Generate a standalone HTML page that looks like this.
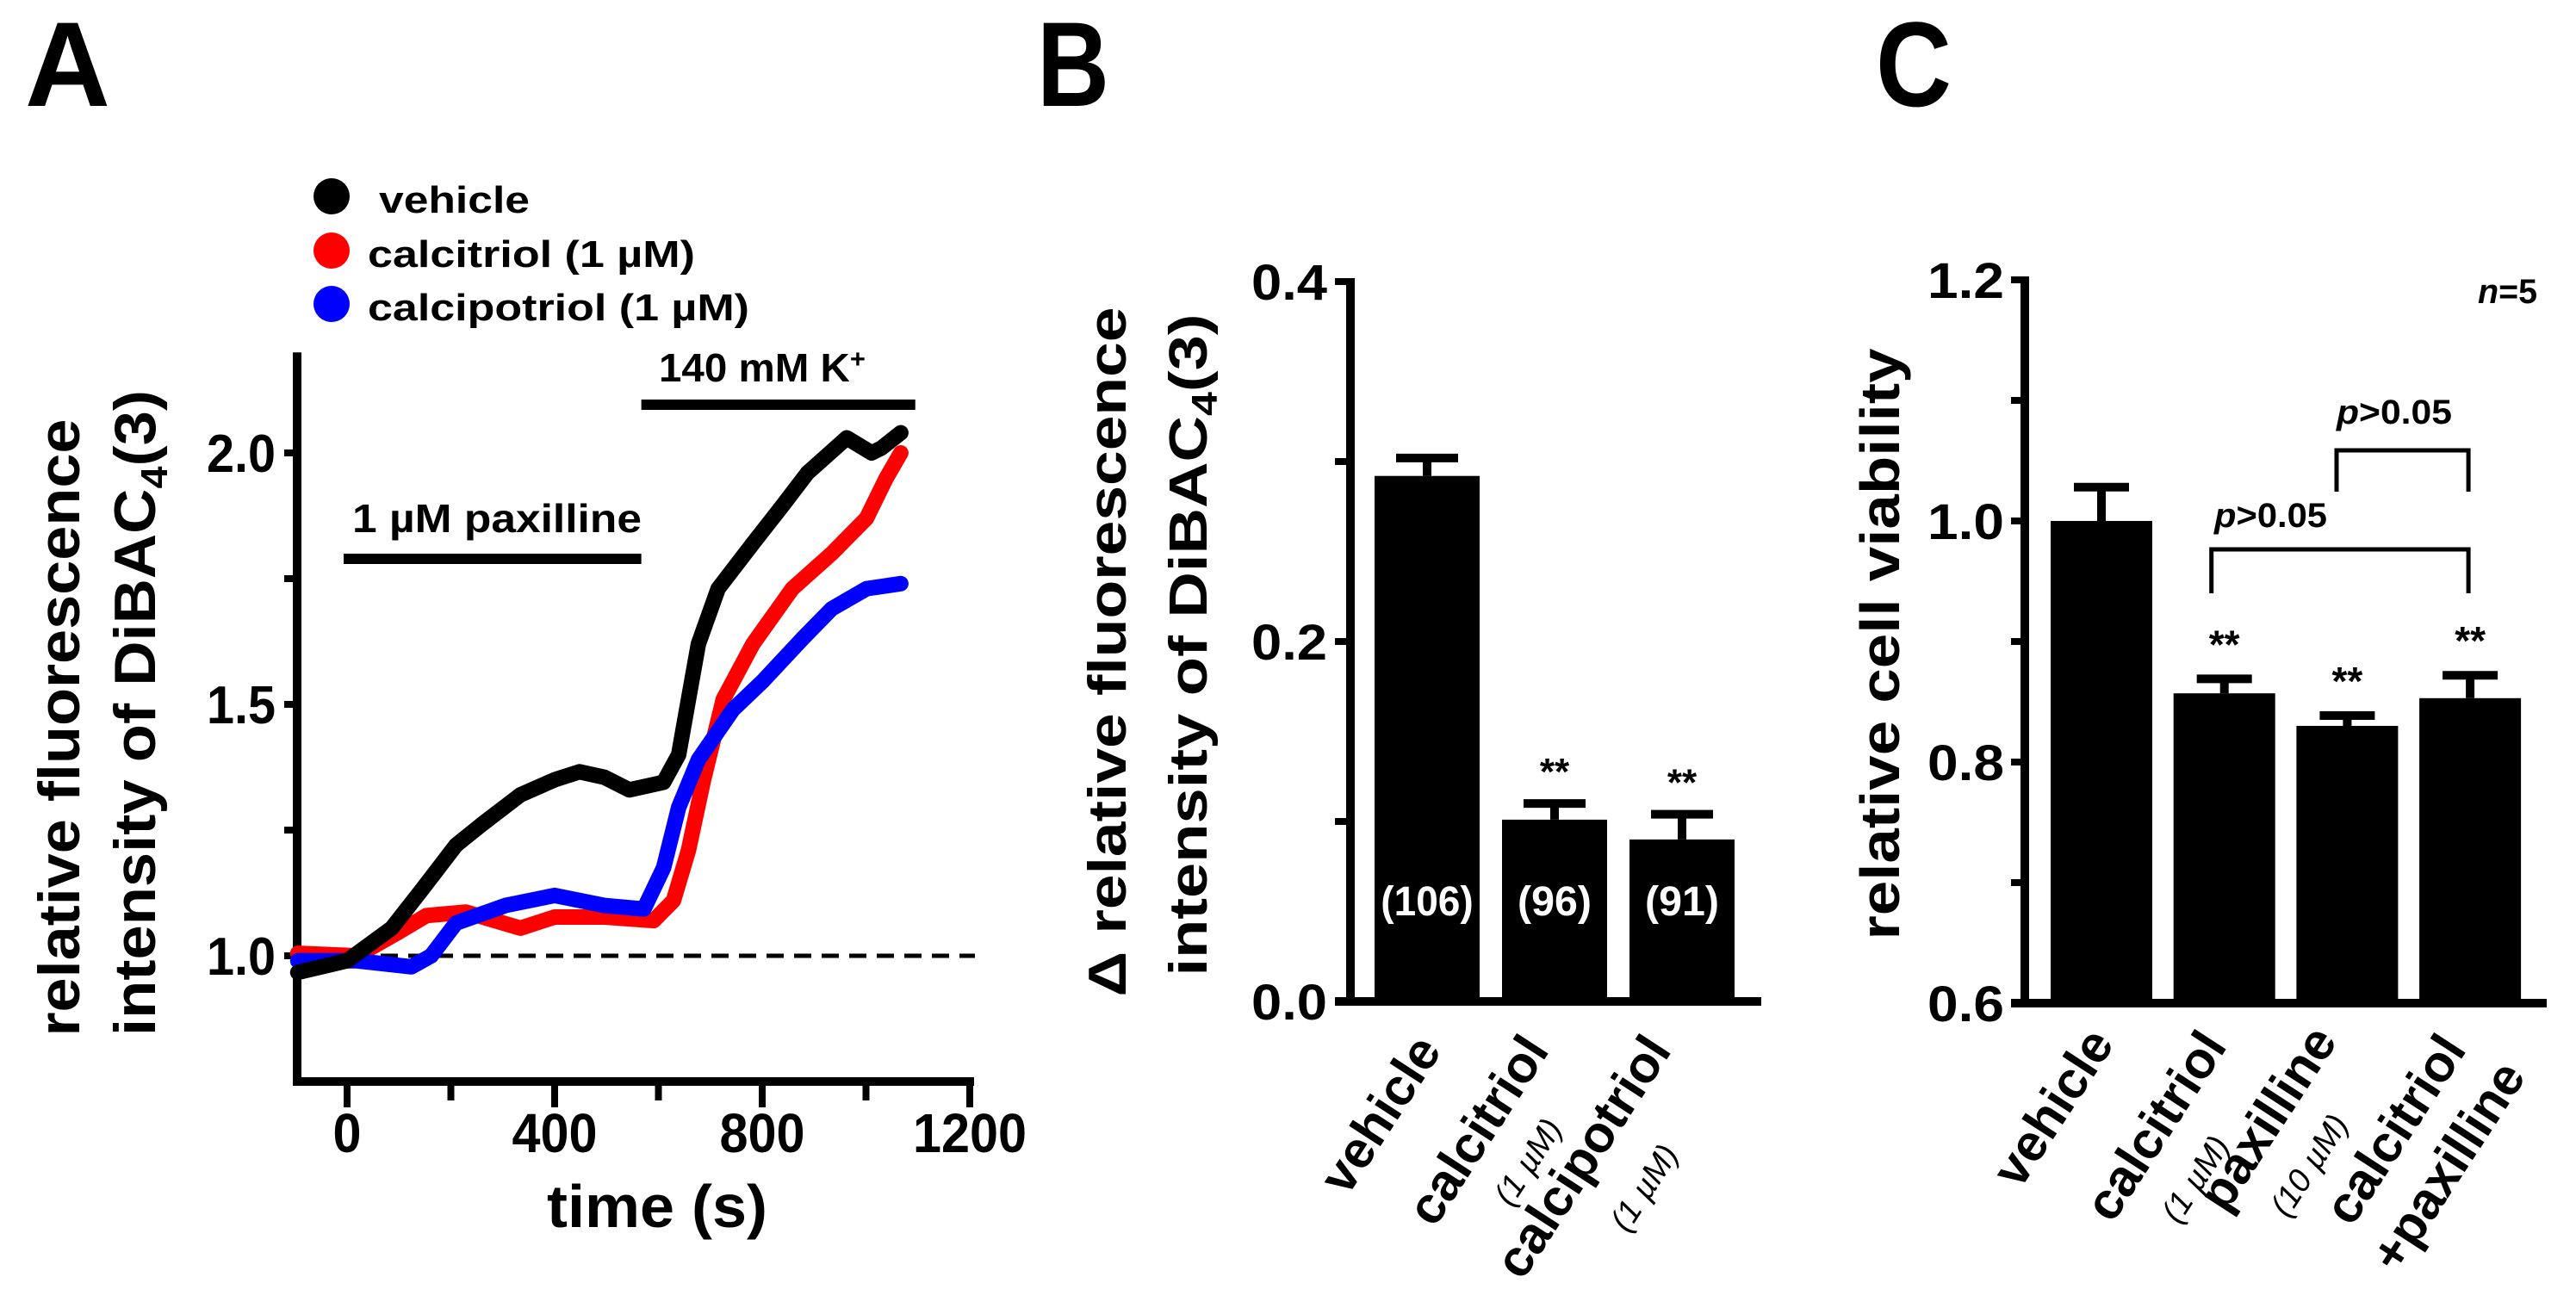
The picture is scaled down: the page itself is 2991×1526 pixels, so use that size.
<!DOCTYPE html>
<html><head><meta charset="utf-8"><style>
html,body{margin:0;padding:0;background:#fff;}
svg{display:block;font-family:"Liberation Sans",Arial,sans-serif;font-weight:bold;}
</style></head><body>
<svg id="fig" width="2991" height="1526" viewBox="0 0 2991 1526" xmlns="http://www.w3.org/2000/svg">
<g id="panelA"></g>
<g id="panelB"></g>
<g id="panelC"></g>
</svg>
<script>
// ---- Panel A data ----
const aVehicleT = [-95,0,86,143,210,258,334,400,448,496,544,610,639,658,677,715,782,839,887,963,1011,1030,1067];
const aVehicleV = [0.967,0.99,1.055,1.13,1.22,1.26,1.32,1.35,1.366,1.355,1.33,1.345,1.40,1.51,1.62,1.73,1.82,1.895,1.96,2.03,2.0,2.01,2.04];
const aCalcitriolT = [-95,19,96,153,229,334,400,496,591,629,658,687,725,782,858,934,1001,1039,1067];
const aCalcitriolV = [1.005,1.0,1.045,1.08,1.087,1.055,1.077,1.077,1.07,1.11,1.21,1.35,1.51,1.62,1.73,1.80,1.87,1.95,2.0];
const aCalcipotriolT = [-95,19,124,162,210,305,400,496,572,610,639,677,744,801,877,934,1001,1067];
const aCalcipotriolV = [0.99,0.99,0.978,1.0,1.065,1.10,1.12,1.10,1.093,1.175,1.295,1.39,1.49,1.546,1.63,1.69,1.73,1.74];
const aXTicks = [0,400,800,1200];
const aXTickLabels = ["0","400","800","1200"];
const aYTicks = [1.0,1.5,2.0];
const aYTickLabels = ["1.0","1.5","2.0"];
// ---- Panel B data ----
const bCategories = ["vehicle","calcitriol","calcipotriol"];
const bSub = ["","(1 \u00B5M)","(1 \u00B5M)"];
const bValues = [0.292,0.101,0.090];
const bErrors = [0.010,0.009,0.014];
const bCounts = ["(106)","(96)","(91)"];
const bStars = ["","**","**"];
const bYTicks = [0.0,0.2,0.4];
const bYTickLabels = ["0.0","0.2","0.4"];
// ---- Panel C data ----
const cCategories = ["vehicle","calcitriol","paxilline","calcitriol"];
const cSub = ["","(1 \u00B5M)","(10 \u00B5M)","+paxilline"];
const cValues = [1.0,0.857,0.830,0.853];
const cErrors = [0.028,0.012,0.0086,0.019];
const cStars = ["","**","**","**"];
const cYTicks = [0.6,0.8,1.0,1.2];
const cYTickLabels = ["0.6","0.8","1.0","1.2"];

const NS="http://www.w3.org/2000/svg";
function mk(parent,tag,attrs,text){const e=document.createElementNS(NS,tag);for(const k in attrs)e.setAttribute(k,attrs[k]);if(text!==undefined)e.textContent=text;parent.appendChild(e);return e;}

// ===== Panel A =====
const A=document.getElementById('panelA');
const ax=t=>403+t*0.6025;
const ay=v=>1110-(v-1)*584;
let e;
e=mk(A,'text',{x:29,y:123,'font-size':140,textLength:99,lengthAdjust:'spacingAndGlyphs'},'A');


const legCols=['#000','#f00','#00f'];
const legTxt=['vehicle','calcitriol (1 \u00B5M)','calcipotriol (1 \u00B5M)'];
const legX=[440,427,427];const legY=[247,310,372];const legW=[175,380,443];
for(let i=0;i<3;i++){
  const g=mk(A,'g',{});
  
  
  mk(g,'ellipse',{cx:385,cy:legY[i]-19,rx:21,ry:21,fill:legCols[i]});
  mk(g,'text',{x:legX[i],y:legY[i],'font-size':44,textLength:legW[i],lengthAdjust:'spacingAndGlyphs'},legTxt[i]);
}
e=mk(A,'line',{x1:345,y1:ay(2.2),x2:345,y2:ay(0.75)+5,stroke:'#000','stroke-width':10});


e=mk(A,'line',{x1:340,y1:ay(0.75),x2:ax(1200)+5,y2:ay(0.75),stroke:'#000','stroke-width':10});


for(let t=0;t<=1200;t+=200){mk(A,'line',{x1:ax(t),y1:ay(0.75),x2:ax(t),y2:ay(0.75)+(t%400===0?30:22),stroke:'#000','stroke-width':8});}
for(let v=1.0;v<=2.01;v+=0.25){mk(A,'line',{x1:345,y1:ay(v),x2:330,y2:ay(v),stroke:'#000','stroke-width':8});}
aXTicks.forEach((t,i)=>{const tl=mk(A,'text',{x:ax(t),y:1338,'font-size':64,'text-anchor':'middle',textLength:aXTickLabels[i].length*33,lengthAdjust:'spacingAndGlyphs'},aXTickLabels[i]);

});
aYTicks.forEach((v,i)=>{const tl=mk(A,'text',{x:320,y:ay(v)+22,'font-size':62,'text-anchor':'end',textLength:80,lengthAdjust:'spacingAndGlyphs'},aYTickLabels[i]);

});
e=mk(A,'text',{x:763,y:1425,'font-size':70,'text-anchor':'middle',textLength:256,lengthAdjust:'spacingAndGlyphs'},'time (s)');


e=mk(A,'text',{transform:'translate(92,845) rotate(-90)','font-size':68,'text-anchor':'middle',textLength:717,lengthAdjust:'spacingAndGlyphs'},'relative fluorescence');


e=mk(A,'text',{transform:'translate(180,828) rotate(-90)','font-size':68,'text-anchor':'middle',textLength:750,lengthAdjust:'spacingAndGlyphs'});


mk(e,'tspan',{},'intensity of DiBAC');mk(e,'tspan',{'font-size':44,dy:14},'4');mk(e,'tspan',{dy:-14},'(3)');
e=mk(A,'line',{x1:346,y1:ay(1),x2:1132,y2:ay(1),stroke:'#000','stroke-width':5,'stroke-dasharray':'20 12'});


e=mk(A,'line',{x1:ax(0)-4,y1:649,x2:ax(567),y2:649,stroke:'#000','stroke-width':12});


e=mk(A,'text',{x:409,y:618,'font-size':46,textLength:336,lengthAdjust:'spacingAndGlyphs'},'1 \u00B5M paxilline');


e=mk(A,'line',{x1:ax(567),y1:470,x2:ax(1095),y2:470,stroke:'#000','stroke-width':12});


e=mk(A,'text',{x:765,y:443,'font-size':46,textLength:240,lengthAdjust:'spacingAndGlyphs'});


e.textContent='140 mM K';mk(e,'tspan',{'font-size':30,dy:-16},'+');
function series(T,V,col,name){const pts=T.map((t,i)=>ax(t).toFixed(1)+','+ay(V[i]).toFixed(1)).join(' ');
 const p=mk(A,'polyline',{points:pts,fill:'none',stroke:col,'stroke-width':18,'stroke-linejoin':'round','stroke-linecap':'round'});
 
 }
series(aCalcitriolT,aCalcitriolV,'#f00','series-calcitriol');
series(aCalcipotriolT,aCalcipotriolV,'#00f','series-calcipotriol');
series(aVehicleT,aVehicleV,'#000','series-vehicle');

// ===== Panel B =====
const B=document.getElementById('panelB');
const by=v=>1163-v*2090;
const bx=i=>1657+i*148;
e=mk(B,'text',{x:1204,y:123,'font-size':140,textLength:84,lengthAdjust:'spacingAndGlyphs'},'B');


e=mk(B,'line',{x1:1568,y1:by(0.4)-4,x2:1568,y2:by(0)+5,stroke:'#000','stroke-width':10});


e=mk(B,'line',{x1:1550,y1:by(0),x2:2045,y2:by(0),stroke:'#000','stroke-width':10});


for(let v=0;v<=0.401;v+=0.1){mk(B,'line',{x1:1568,y1:by(v),x2:1550,y2:by(v),stroke:'#000','stroke-width':8});}
bYTicks.forEach((v,i)=>{const tl=mk(B,'text',{x:1541,y:by(v)+21,'font-size':58,'text-anchor':'end',textLength:88,lengthAdjust:'spacingAndGlyphs'},bYTickLabels[i]);

});
e=mk(B,'text',{transform:'translate(1307,757) rotate(-90)','font-size':62,'text-anchor':'middle',textLength:801,lengthAdjust:'spacingAndGlyphs'},'\u0394 relative fluorescence');


e=mk(B,'text',{transform:'translate(1401,749) rotate(-90)','font-size':62,'text-anchor':'middle',textLength:769,lengthAdjust:'spacingAndGlyphs'});


mk(e,'tspan',{},'intensity of DiBAC');mk(e,'tspan',{'font-size':42,dy:12},'4');mk(e,'tspan',{dy:-12},'(3)');
const bEndDx=[18,-5,-11];const bSubEnd=[[0,0],[1815,1310],[1950,1340]];
bValues.forEach((v,i)=>{
  const c=bx(i);
  const r=mk(B,'rect',{x:c-61,y:by(v),width:122,height:by(0)-by(v),fill:'#000'});
  
  
  const eb=mk(B,'path',{d:`M${c},${by(v)} V${by(v+bErrors[i])} M${c-36},${by(v+bErrors[i])} H${c+36}`,stroke:'#000','stroke-width':10,fill:'none'});
  
  
  const n=mk(B,'text',{x:c,y:1063,'font-size':48,'text-anchor':'middle',fill:'#fff',textLength:bCounts[i].length*21.5,lengthAdjust:'spacingAndGlyphs'},bCounts[i]);
  
  
  if(bStars[i]){const s=mk(B,'text',{x:c,y:by(v+bErrors[i])-22,'font-size':44,'text-anchor':'middle'},bStars[i]);
  
  }
  const xl=mk(B,'text',{transform:`translate(${c+bEndDx[i]},1220) rotate(-57)`,'font-size':60,'text-anchor':'end'},bCategories[i]);
  
  
  if(bSub[i]){const sl=mk(B,'text',{transform:`translate(${bSubEnd[i][0]},${bSubEnd[i][1]}) rotate(-57)`,'font-size':38,'font-weight':'normal','font-style':'italic','text-anchor':'end'},bSub[i]);
  
  }
});

// ===== Panel C =====
const C=document.getElementById('panelC');
const cy=v=>1165-(v-0.6)*1400;
const cx=i=>2440+i*142.7;
e=mk(C,'text',{x:2178,y:123,'font-size':140,textLength:88,lengthAdjust:'spacingAndGlyphs'},'C');


e=mk(C,'line',{x1:2351,y1:cy(1.2)-4,x2:2351,y2:cy(0.6)+5,stroke:'#000','stroke-width':10});


e=mk(C,'line',{x1:2335,y1:cy(0.6),x2:2957,y2:cy(0.6),stroke:'#000','stroke-width':10});


for(let v=0.6;v<=1.201;v+=0.1){mk(C,'line',{x1:2351,y1:cy(v),x2:2335,y2:cy(v),stroke:'#000','stroke-width':8});}
cYTicks.forEach((v,i)=>{const tl=mk(C,'text',{x:2327,y:cy(v)+21,'font-size':58,'text-anchor':'end',textLength:89,lengthAdjust:'spacingAndGlyphs'},cYTickLabels[i]);

});
e=mk(C,'text',{transform:'translate(2205,748) rotate(-90)','font-size':64,'text-anchor':'middle',textLength:687,lengthAdjust:'spacingAndGlyphs'},'relative cell viability');


e=mk(C,'text',{x:2877,y:352,'font-size':40,textLength:69,lengthAdjust:'spacingAndGlyphs'});


mk(e,'tspan',{'font-style':'italic'},'n');mk(e,'tspan',{},'=5');
const cEnd=[[2456,1212],[2587,1215],[2715,1209],[2865,1219]];
const cSubEnd=[[0,0],[2590,1330],[2728,1305],[2934,1250]];
cValues.forEach((v,i)=>{
  const c=cx(i);
  const r=mk(C,'rect',{x:c-59,y:cy(v),width:118,height:cy(0.6)-cy(v),fill:'#000'});
  
  
  const eb=mk(C,'path',{d:`M${c},${cy(v)} V${cy(v+cErrors[i])} M${c-32},${cy(v+cErrors[i])} H${c+32}`,stroke:'#000','stroke-width':10,fill:'none'});
  
  
  if(cStars[i]){const s=mk(C,'text',{x:c,y:cy(v+cErrors[i])-24,'font-size':46,'text-anchor':'middle'},cStars[i]);
  
  }
  const xl=mk(C,'text',{transform:`translate(${cEnd[i][0]},${cEnd[i][1]}) rotate(-57)`,'font-size':60,'text-anchor':'end'},cCategories[i]);
  
  
  if(cSub[i]){const big=cSub[i][0]==='+';
   const sl=mk(C,'text',{transform:`translate(${cSubEnd[i][0]},${cSubEnd[i][1]}) rotate(-57)`,'font-size':big?60:38,'font-weight':big?'bold':'normal','font-style':big?'normal':'italic','text-anchor':'end'},cSub[i]);
   
   }
});
e=mk(C,'path',{d:`M${cx(1)-15},689 V638 H${cx(3)-2} V689`,stroke:'#000','stroke-width':5,fill:'none'});


e=mk(C,'text',{x:2571,y:612,'font-size':40,textLength:131,lengthAdjust:'spacingAndGlyphs'});


mk(e,'tspan',{'font-style':'italic'},'p');mk(e,'tspan',{},'>0.05');
e=mk(C,'path',{d:`M2713,571 V523 H${cx(3)-2} V571`,stroke:'#000','stroke-width':5,fill:'none'});


e=mk(C,'text',{x:2713,y:492,'font-size':40,textLength:134,lengthAdjust:'spacingAndGlyphs'});


mk(e,'tspan',{'font-style':'italic'},'p');mk(e,'tspan',{},'>0.05');
</script>
</body></html>
